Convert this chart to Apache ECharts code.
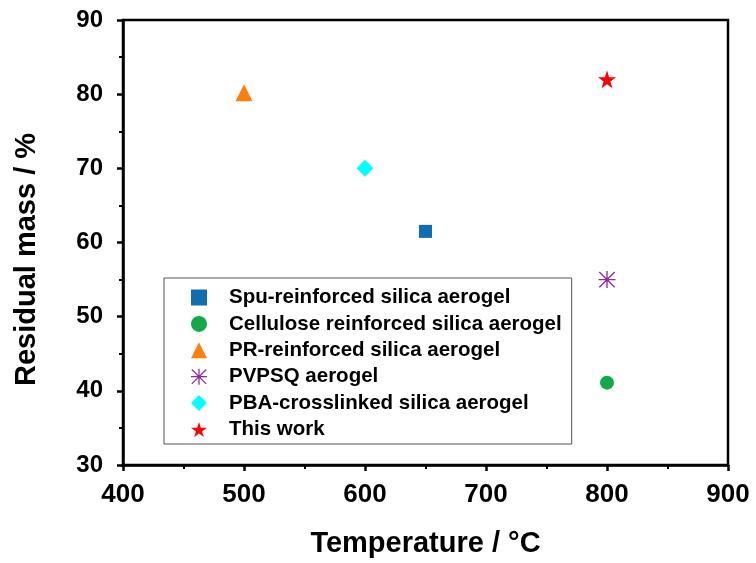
<!DOCTYPE html>
<html>
<head>
<meta charset="utf-8">
<script src="https://cdn.jsdelivr.net/npm/echarts@6/dist/echarts.min.js"></script>
<style>
  html, body { margin: 0; padding: 0; background: #fff; }
  #chart { width: 756px; height: 563px; }
</style>
</head>
<body>
<div id="chart"></div>
<script>
// one point per material: [temperature °C, residual mass %]
const seriesNames = [
  'Spu-reinforced silica aerogel',
  'Cellulose reinforced silica aerogel',
  'PR-reinforced silica aerogel',
  'PVPSQ aerogel',
  'PBA-crosslinked silica aerogel',
  'This work'
]
const spuPoints = [[650, 61.5]]
const cellulosePoints = [[800, 41.1]]
const prPoints = [[500, 80.2]]
const pvpsqPoints = [[800, 55]]
const pbaPoints = [[600, 70]]
const thisWorkPoints = [[800, 82]]

const xTicks = [400, 500, 600, 700, 800, 900]
const yTicks = [30, 40, 50, 60, 70, 80, 90]

const starPath = 'path://M50,0 L61,35 L98,35 L68,57 L79,91 L50,70 L21,91 L32,57 L2,35 L39,35 Z'
const asteriskPath = 'path://M9.2,0 L10.8,0 L10.8,20 L9.2,20 Z M0,9.2 L20,9.2 L20,10.8 L0,10.8 Z ' +
  'M1.57,0.43 L19.57,18.43 L18.43,19.57 L0.43,1.57 Z M18.43,0.43 L19.57,1.57 L1.57,19.57 L0.43,18.43 Z'

const markers = [
  { data: spuPoints, symbol: 'rect', size: 13, color: '#0f6db0' },
  { data: cellulosePoints, symbol: 'circle', size: 14, color: '#14a84a' },
  { data: prPoints, symbol: 'triangle', size: 17, color: '#ff7f0e' },
  { data: pvpsqPoints, symbol: asteriskPath, size: 17, color: '#8e2b9e' },
  { data: pbaPoints, symbol: 'diamond', size: 17, color: '#00ffff' },
  { data: thisWorkPoints, symbol: starPath, size: 18, color: '#ff0000' }
]

const font = 'Liberation Sans, Arial, sans-serif'
const chart = echarts.init(document.getElementById('chart'))

const series = markers.map((m, i) => {
  return {
    name: seriesNames[i],
    type: 'scatter',
    data: m.data,
    symbol: m.symbol,
    symbolSize: m.size,
    itemStyle: { color: m.color, opacity: 1 }
  }
})

chart.setOption({
  animation: false,
  grid: {
    left: 123,
    right: 28,
    top: 20,
    bottom: 96,
    show: true,
    borderColor: '#000',
    borderWidth: 2.5,
    backgroundColor: 'transparent'
  },
  legend: {
    orient: 'vertical',
    left: 164,
    top: 278,
    padding: [9, 10, 4, 27],
    itemGap: 5.4,
    itemWidth: 16,
    itemHeight: 16,
    borderColor: '#555',
    borderWidth: 1,
    textStyle: {
      fontFamily: font,
      fontWeight: 'bold',
      fontSize: 20.5,
      lineHeight: 20,
      color: '#000',
      padding: [0, 0, 0, 17]
    },
    data: seriesNames
  },
  xAxis: {
    type: 'value',
    min: xTicks[0],
    max: xTicks[xTicks.length - 1],
    interval: 100,
    name: 'Temperature / °C',
    nameLocation: 'middle',
    nameGap: 64,
    nameTextStyle: { fontFamily: font, fontWeight: 'bold', fontSize: 29, color: '#000' },
    axisLine: { lineStyle: { color: '#000', width: 2.5 } },
    axisTick: { length: 6, lineStyle: { color: '#000', width: 2.5 } },
    minorTick: { show: true, splitNumber: 2, length: 4, lineStyle: { color: '#000', width: 2 } },
    axisLabel: { margin: 17, fontFamily: font, fontWeight: 'bold', fontSize: 26, color: '#000' },
    splitLine: { show: false }
  },
  yAxis: {
    type: 'value',
    min: yTicks[0],
    max: yTicks[yTicks.length - 1],
    interval: 10,
    name: 'Residual mass / %',
    nameLocation: 'middle',
    nameGap: 82,
    nameTextStyle: {
      fontFamily: font,
      fontWeight: 'bold',
      fontSize: 29,
      color: '#000',
      padding: [0, 34, 0, 0]
    },
    axisLine: { lineStyle: { color: '#000', width: 2.5 } },
    axisTick: { length: 6, lineStyle: { color: '#000', width: 2.5 } },
    minorTick: { show: true, splitNumber: 2, length: 4, lineStyle: { color: '#000', width: 2 } },
    axisLabel: { margin: 20, fontFamily: font, fontWeight: 'bold', fontSize: 24, color: '#000' },
    splitLine: { show: false }
  },
  series: series
})
</script>
</body>
</html>
